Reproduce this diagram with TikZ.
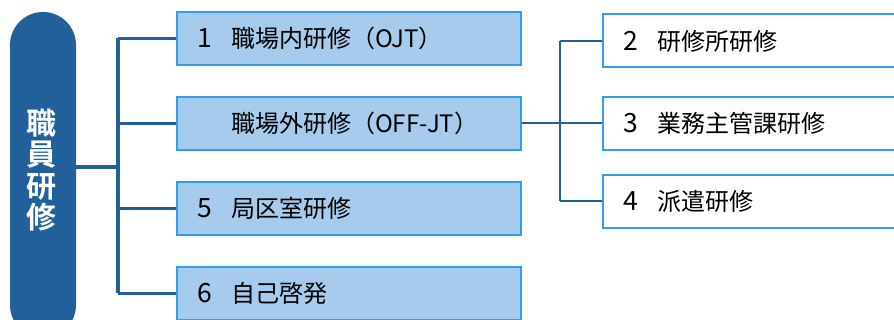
\documentclass[tikz,border=0pt]{standalone}
\usepackage{fontspec}
\newfontfamily\jp[BoldFont={Noto Sans CJK JP Bold}]{Noto Sans CJK JP}
\definecolor{navy}{HTML}{22609C}
\definecolor{boxfill}{HTML}{A7CBEC}
\definecolor{boxline}{HTML}{2F9EEF}
\tikzset{
  pillbox/.style={fill=navy, draw=none, rounded corners=33pt, minimum width=66pt, minimum height=326pt, inner sep=0pt},
  vlabel/.style={text=white, font=\jp\bfseries\fontsize{30}{31.5}\selectfont, align=center, inner sep=0pt},
  leftbox/.style={fill=boxfill, draw=boxline, line width=2pt, anchor=west, minimum height=53pt, text width=304pt, inner xsep=20pt, inner ysep=0pt, align=left, font=\jp\fontsize{24}{26}\selectfont},
  rightbox/.style={fill=white, draw=boxline, line width=2pt, anchor=west, minimum height=53pt, text width=270pt, inner xsep=20pt, inner ysep=0pt, align=left, font=\jp\fontsize{24}{26}\selectfont},
  thick conn/.style={draw=navy, line width=3.5pt},
  thin conn/.style={draw=navy, line width=2pt},
}
\newcommand{\numlab}[1]{\makebox[34pt][l]{\fontsize{26.5}{26}\selectfont #1}}
\begin{document}
\begin{tikzpicture}[x=1pt, y=-1pt]
\useasboundingbox (0,0) rectangle (894,320);
\clip (0,0) rectangle (894,320);
% pill
\node[pillbox] (pill) at (43,175) {};
\node[vlabel] (plabel) at (42,170) {職\\員\\研\\修};
% left boxes
\node[leftbox] (b1) at (176,38.5) {\numlab{1}職場内研修（OJT）};
\node[leftbox] (b2) at (176,123.5) {\numlab{}職場外研修（OFF-JT）};
\node[leftbox] (b5) at (176,208.5) {\numlab{5}局区室研修};
\node[leftbox] (b6) at (176,293.5) {\numlab{6}自己啓発};
% right boxes
\node[rightbox] (r2) at (602,41) {\numlab{2}研修所研修};
\node[rightbox] (r3) at (602,123.5) {\numlab{3}業務主管課研修};
\node[rightbox] (r4) at (602,201.5) {\numlab{4}派遣研修};
% left connectors
\coordinate (j) at (118,167);
\draw[thick conn] (j -| pill.east) -- (j);
\draw[thick conn] (j |- b1.west) -- (j |- b6.west);
\foreach \b in {b1,b2,b5,b6} \draw[thick conn] (j |- \b.west) -- (\b.west);
% right connectors
\coordinate (k) at (560,123.5);
\draw[thin conn] (b2.east) -- (k);
\draw[thin conn] (k |- r2.west) -- (k |- r4.west);
\foreach \r in {r2,r3,r4} \draw[thin conn] (k |- \r.west) -- (\r.west);
\end{tikzpicture}
\end{document}
